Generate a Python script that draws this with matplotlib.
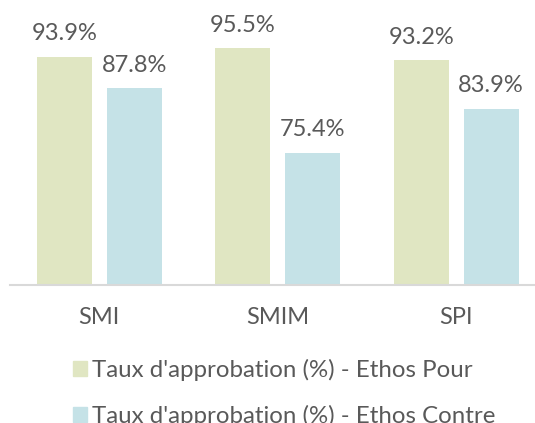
import matplotlib.pyplot as plt
import numpy as np
from matplotlib.patches import Patch

categories = ['SMI', 'SMIM', 'SPI']
ethos_pour = [93.9, 95.5, 93.2]
ethos_contre = [87.8, 75.4, 83.9]
series_names = ["Taux d'approbation (%) - Ethos Pour",
                "Taux d'approbation (%) - Ethos Contre"]

GREEN = '#E0E6C2'
BLUE = '#C5E2E7'
TXT = '#595959'

plt.rcParams['font.family'] = ['Lato', 'DejaVu Sans']

fig = plt.figure(figsize=(5.35, 4.23), dpi=100)
# axes spans a bit past the right edge, like the original
ax = fig.add_axes([10 / 535, 138 / 423, 535.5 / 535, 260 / 423])

x = np.arange(len(categories))
w = 0.308
off = 0.196
b1 = ax.bar(x - off, ethos_pour, w, color=GREEN)
b2 = ax.bar(x + off, ethos_contre, w, color=BLUE)

for bars, vals in [(b1, ethos_pour), (b2, ethos_contre)]:
    for b, v in zip(bars, vals):
        ax.annotate(f'{v:.1f}%', (b.get_x() + b.get_width() / 2, v),
                    xytext=(0, 12), textcoords='offset points',
                    ha='center', va='baseline', fontsize=17, color=TXT,
                    annotation_clip=False)

ax.set_xlim(-0.5, 2.5)
ax.set_ylim(50, 100)
ax.set_xticks(x)
ax.set_xticklabels(categories, fontsize=17, color=TXT)
ax.tick_params(axis='x', length=0, pad=16)
ax.set_yticks([])
for s in ['top', 'right', 'left']:
    ax.spines[s].set_visible(False)
ax.spines['bottom'].set_color('#D9D9D9')
ax.spines['bottom'].set_linewidth(1.5)

handles = [Patch(color=GREEN), Patch(color=BLUE)]
fig.legend(handles, series_names, loc='upper left',
           bbox_to_anchor=(73 / 535, 1 - 359 / 423), frameon=False,
           borderpad=0, borderaxespad=0,
           fontsize=17.3, labelcolor=TXT, handlelength=0.6, handleheight=0.6,
           handletextpad=0.2, labelspacing=0.98)

fig.savefig('out.png', dpi=100)
